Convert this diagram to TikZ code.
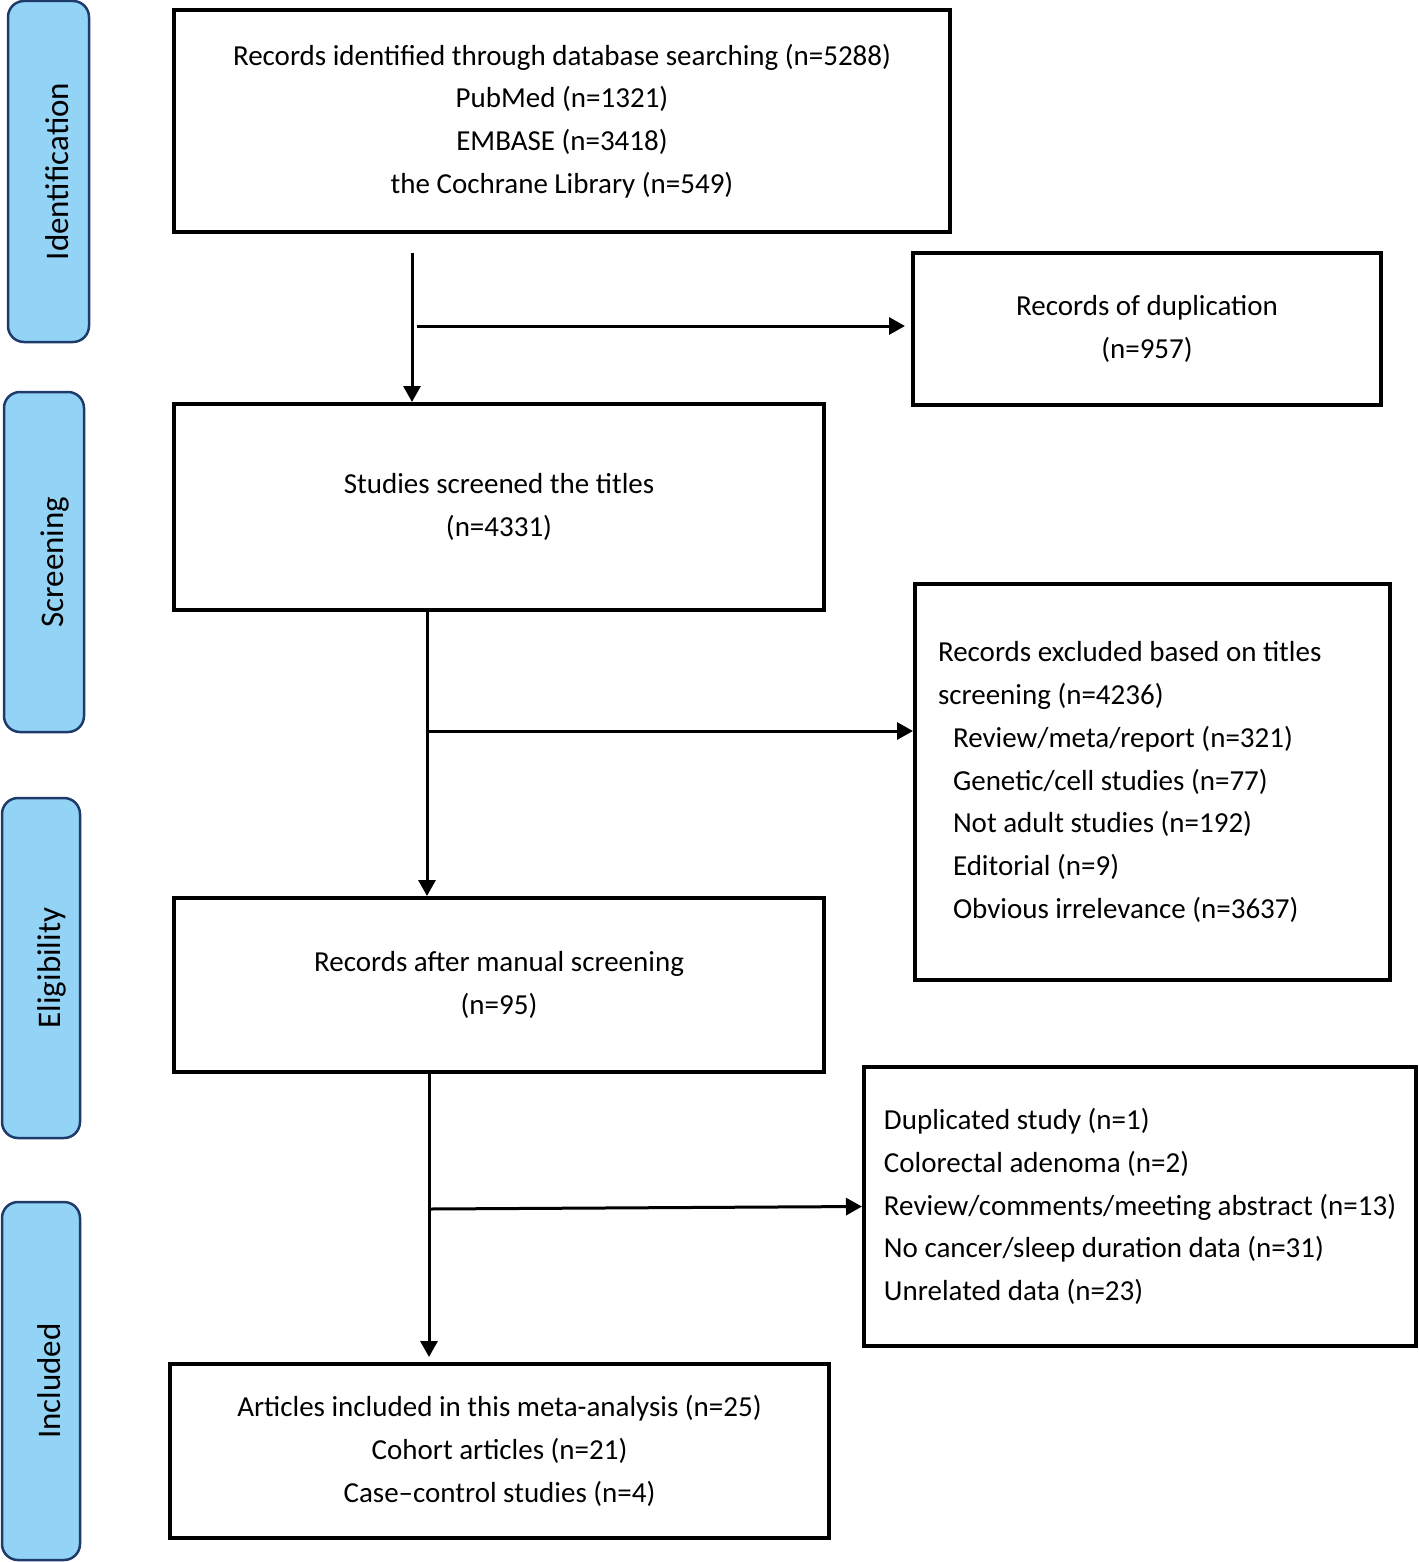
\documentclass[tikz,border=0pt]{standalone}
\usepackage{fontspec}
\setmainfont{Carlito}
\usetikzlibrary{arrows.meta}
\definecolor{phasefill}{HTML}{92D3F6}
\definecolor{phasedraw}{HTML}{1F3B6B}
\begin{document}
\begin{tikzpicture}[x=1pt,y=-1pt,
	font=\fontsize{29}{42.7}\selectfont,
	box/.style={draw,line width=4pt,align=center,inner sep=0pt},
	listbox/.style={draw,line width=4pt,align=flush left,inner xsep=23pt,inner ysep=0pt},
	phase/.style={draw=phasedraw,fill=phasefill,line width=2.5pt,rounded corners=16pt,inner sep=0pt},
	phasetext/.style={rotate=90,anchor=base,font=\fontsize{33}{40}\selectfont},
	flow/.style={line width=3pt,-{Triangle[length=16pt,width=17pt]}}]
	\useasboundingbox (0,0) rectangle (1418,1562);
	\node[phase,minimum width=81pt,minimum height=341pt] at (48.5,171.5) (ident) {};
	\node[phase,minimum width=80pt,minimum height=340pt] at (44,562) (screen) {};
	\node[phase,minimum width=78pt,minimum height=340pt] at (41,968) (elig) {};
	\node[phase,minimum width=78pt,minimum height=358pt] at (41,1381) (incl) {};
	\node[phasetext] at ([xshift=19.5pt]ident.center) (identtext) {Identification};
	\node[phasetext] at ([xshift=19pt]screen.center) (screentext) {Screening};
	\node[phasetext] at ([xshift=19pt]elig.center) (eligtext) {Eligibility};
	\node[phasetext] at ([xshift=19pt]incl.center) (incltext) {Included};
	\node[box,minimum width=776pt,minimum height=222pt] at (562,121) (records) {Records identified through database searching (n=5288)\\PubMed (n=1321)\\EMBASE (n=3418)\\the Cochrane Library (n=549)};
	\node[box,minimum width=468pt,minimum height=152pt] at (1147,329) (dupl) {Records of duplication\\(n=957)};
	\node[box,minimum width=650pt,minimum height=206pt] at (499,507) (titles) {Studies screened the titles\\(n=4331)};
	\node[listbox,text width=429pt,minimum height=396pt] at (1152.5,782) (exclone) {Records excluded based on titles\\screening (n=4236)\\
		\hspace*{15pt}Review/meta/report (n=321)\\
		\hspace*{15pt}Genetic/cell studies (n=77)\\
		\hspace*{15pt}Not adult studies (n=192)\\
		\hspace*{15pt}Editorial (n=9)\\
		\hspace*{15pt}Obvious irrelevance (n=3637)};
	\node[box,minimum width=650pt,minimum height=174pt] at (499,985) (manual) {Records after manual screening\\(n=95)};
	\node[listbox,inner xsep=20pt,minimum width=552pt,minimum height=279pt] at (1140,1206.5) (excltwo) {Duplicated study (n=1)\\
		Colorectal adenoma (n=2)\\
		Review/comments/meeting abstract (n=13)\\
		No cancer/sleep duration data (n=31)\\
		Unrelated data (n=23)};
	\node[box,minimum width=659pt,minimum height=174pt] at (499.5,1451) (included) {Articles included in this meta-analysis (n=25)\\Cohort articles (n=21)\\Case--control studies (n=4)};
	\coordinate (a) at (412,253);
	\coordinate (b) at (417,326);
	\coordinate (c) at (427,610);
	\coordinate (d) at (427,731);
	\coordinate (e) at (429,1072);
	\coordinate (f) at (430,1209);
	\path (a) edge[flow] (a |- titles.north)
	(b) edge[flow,shorten >=6pt] (b -| dupl.west)
	(c) edge[flow] (c |- manual.north)
	(d) edge[flow] (d -| exclone.west)
	(e) edge[flow,shorten >=5pt] (e |- included.north)
	(f) edge[flow] (excltwo.west);
\end{tikzpicture}
\end{document}
